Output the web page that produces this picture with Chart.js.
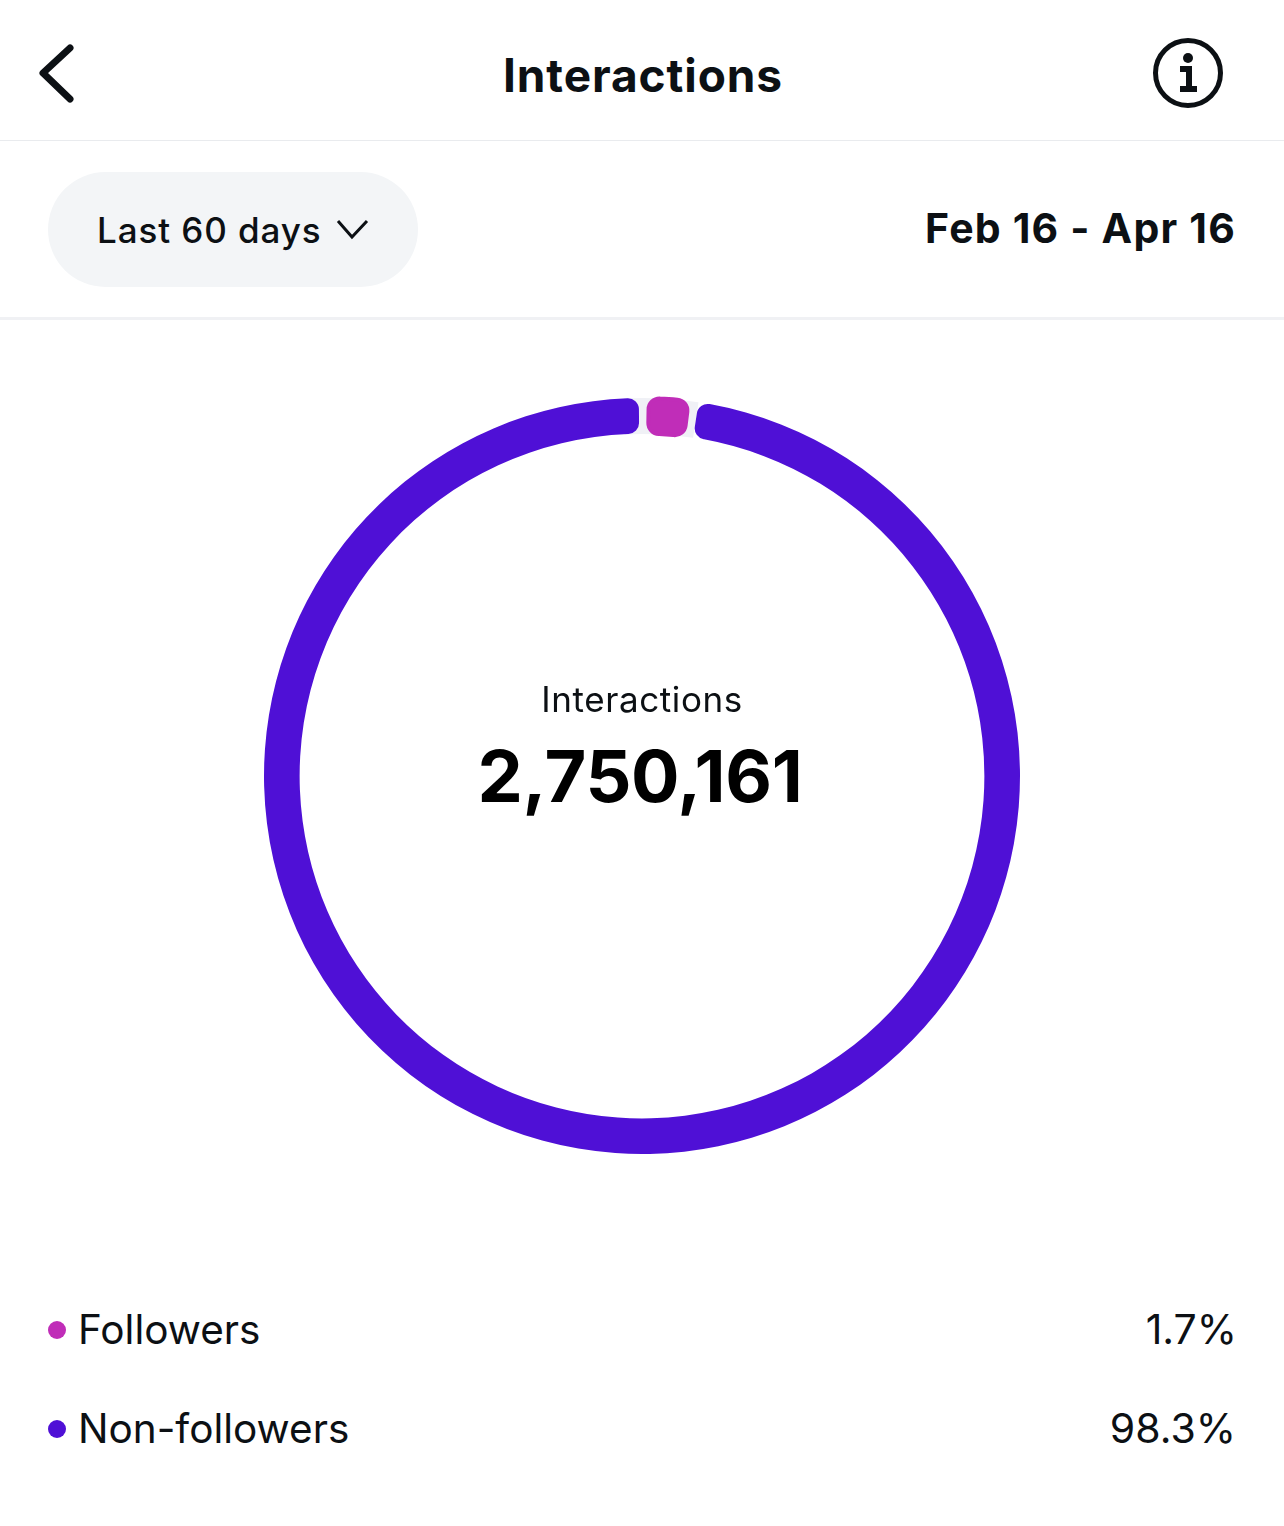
<!DOCTYPE html>
<html><head><meta charset="utf-8">
<script src="https://cdn.jsdelivr.net/npm/chart.js@4"></script>
<style>
html,body{margin:0;padding:0;background:#fff;}
body{width:1284px;height:1526px;position:relative;overflow:hidden;font-family:Inter,"Noto Sans",sans-serif;color:#0c1014;}
.t{position:absolute;white-space:nowrap;line-height:1;}
#wrap{position:absolute;left:242px;top:376px;width:800px;height:800px;}
</style></head><body>
<svg style="position:absolute;left:0;top:0" width="1284" height="140">
<polyline points="70,48 43,73 70,99" fill="none" stroke="#0c1014" stroke-width="7" stroke-linecap="round" stroke-linejoin="round"/>
<circle cx="1188" cy="73" r="32.5" fill="none" stroke="#0c1014" stroke-width="5"/>
<circle cx="1188" cy="58" r="5" fill="#0c1014"/>
<path d="M1180 69h9v20M1180 89h17" fill="none" stroke="#0c1014" stroke-width="6"/>
</svg>
<div class="t" style="left:1px;width:1284px;text-align:center;top:52px;font-size:46px;font-weight:700;letter-spacing:.9px">Interactions</div>
<div style="position:absolute;left:0;top:140px;width:1284px;height:1px;background:#e9ebee"></div>
<div style="position:absolute;left:48px;top:172px;width:370px;height:115px;border-radius:58px;background:#f3f5f7"></div>
<div class="t" style="left:97px;top:213px;font-size:35px;font-weight:500;letter-spacing:.9px">Last 60 days</div>
<svg style="position:absolute;left:335px;top:218px" width="36" height="24"><polyline points="3,3 17,19 32,3" fill="none" stroke="#0c1014" stroke-width="3"/></svg>
<div class="t" style="right:48px;top:208px;font-size:41px;font-weight:700;letter-spacing:1.2px">Feb 16 - Apr 16</div>
<div style="position:absolute;left:0;top:317px;width:1284px;height:3px;background:#f0f1f4"></div>
<div id="wrap"><canvas id="c" width="800" height="800"></canvas></div>
<div class="t" style="left:0;width:1284px;text-align:center;top:682px;font-size:35px;letter-spacing:.6px">Interactions</div>
<div class="t" style="left:-2px;width:1284px;text-align:center;top:740px;font-size:72px;font-weight:700;color:#000;letter-spacing:-.3px">2,750,161</div>
<div style="position:absolute;left:48px;top:1321px;width:18px;height:18px;border-radius:50%;background:#c02db8"></div>
<div class="t" style="left:78px;top:1310px;font-size:40.5px">Followers</div>
<div class="t" style="right:47px;top:1309px;font-size:41px">1.7%</div>
<div style="position:absolute;left:48px;top:1420px;width:18px;height:18px;border-radius:50%;background:#4f10d6"></div>
<div class="t" style="left:78px;top:1409px;font-size:40.5px">Non-followers</div>
<div class="t" style="right:48px;top:1408px;font-size:41px">98.3%</div>
<script>
const categories=["Followers","Non-followers"];
const seriesValues=[1.7,98.3];
const sliceColors=["#c02db8","#4f10d6"];
const trackColor="#f0f1f6";
const track={id:'track',beforeDatasetsDraw(ch){const a=ch.getDatasetMeta(0).data[0];const c=ch.ctx;
c.save();c.beginPath();c.arc(a.x,a.y,360,-Math.PI/2-.05,-Math.PI/2+.15);c.lineWidth=36;c.strokeStyle=trackColor;c.stroke();c.restore();}};
new Chart(document.getElementById('c'),{type:'doughnut',plugins:[track],data:{labels:categories,datasets:[{data:seriesValues,backgroundColor:sliceColors,borderColor:sliceColors,borderWidth:[4,0],borderJoinStyle:'round',spacing:6,borderRadius:11}]},
options:{responsive:false,animation:false,cutout:'90.5%',radius:375,rotation:1,layout:{padding:0},plugins:{legend:{display:false},tooltip:{enabled:false}}}});
</script>
</body></html>
